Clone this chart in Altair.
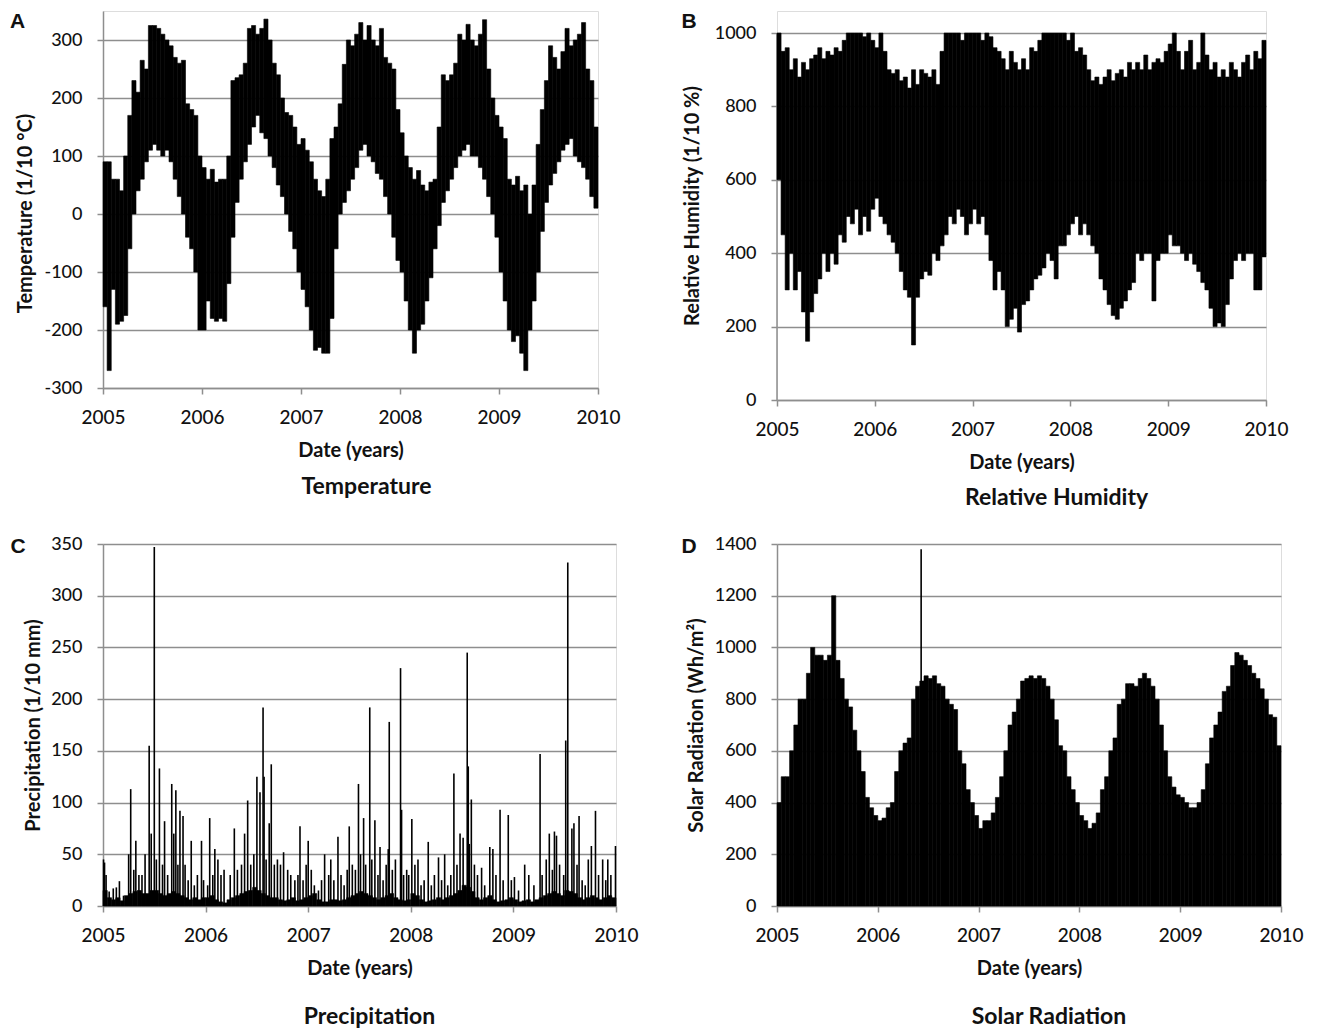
import altair as alt
import pandas as pd

# ---------------- data (half-month bins 2005-2009) ----------------
YEARS = [2005, 2006, 2007, 2008, 2009, 2010]

temp_hi = [90, 90, 60, 60, 40, 100, 170, 230, 210, 265, 250, 325, 325, 320, 310, 300, 290, 270, 260, 265, 190, 180, 170, 100,
           80, 60, 77, 55, 60, 60, 100, 230, 235, 240, 260, 320, 325, 310, 320, 336, 300, 260, 240, 200, 175, 170, 150, 120,
           130, 110, 90, 60, 40, 30, 60, 130, 150, 190, 258, 300, 290, 310, 330, 300, 325, 300, 290, 320, 270, 260, 250, 180,
           140, 100, 80, 60, 75, 50, 40, 55, 60, 150, 240, 230, 240, 260, 310, 300, 327, 300, 290, 310, 335, 250, 200, 170,
           150, 130, 60, 50, 65, 40, 50, 0, 50, 120, 180, 230, 290, 270, 250, 280, 320, 290, 300, 310, 330, 250, 230, 150]
temp_lo = [-160, -270, -130, -190, -185, -175, -60, 0, 40, 60, 90, 110, 120, 110, 100, 110, 90, 60, 30, 0, -40, -60, -100, -200,
           -200, -150, -180, -185, -180, -185, -120, -40, 20, 60, 90, 120, 150, 170, 140, 130, 100, 80, 50, 30, 0, -30, -60, -100,
           -130, -160, -200, -235, -230, -240, -240, -180, -60, 0, 20, 40, 60, 80, 110, 120, 100, 90, 70, 60, 30, 0, -40, -80,
           -100, -150, -200, -240, -200, -190, -150, -110, -60, -20, 20, 40, 60, 80, 100, 110, 120, 100, 100, 80, 60, 30, 0, -40,
           -100, -150, -200, -220, -210, -240, -270, -200, -150, -100, -30, 20, 50, 70, 90, 110, 120, 130, 100, 90, 80, 60, 30, 10]

hum_hi = [1000, 950, 960, 900, 930, 880, 920, 900, 930, 940, 960, 930, 950, 940, 960, 950, 980, 1000, 1000, 1000, 1000, 990, 1000, 980,
          960, 1000, 950, 900, 890, 900, 870, 880, 850, 900, 860, 900, 890, 880, 900, 860, 950, 1000, 1000, 1000, 1000, 980, 1000, 1000,
          1000, 1000, 980, 1000, 990, 960, 950, 930, 900, 950, 920, 900, 930, 900, 960, 950, 980, 1000, 1000, 1000, 1000, 1000, 1000, 980,
          1000, 950, 960, 940, 900, 870, 880, 860, 880, 900, 870, 890, 900, 880, 920, 900, 920, 900, 940, 900, 920, 930, 920, 950,
          970, 1000, 950, 900, 950, 980, 900, 920, 1000, 940, 900, 920, 880, 900, 880, 920, 900, 880, 920, 940, 900, 950, 930, 980]
hum_lo = [600, 450, 300, 400, 300, 350, 240, 160, 240, 290, 330, 400, 350, 400, 370, 450, 430, 500, 480, 520, 450, 500, 460, 520,
          550, 500, 480, 450, 430, 400, 350, 300, 280, 150, 280, 330, 350, 340, 400, 380, 420, 450, 500, 480, 520, 500, 450, 480,
          520, 480, 500, 450, 380, 300, 350, 300, 200, 220, 250, 185, 260, 270, 300, 330, 340, 360, 400, 380, 330, 420, 420, 450,
          480, 500, 450, 480, 450, 420, 400, 330, 300, 260, 230, 220, 250, 270, 300, 320, 400, 380, 400, 400, 270, 380, 400, 400,
          450, 420, 420, 400, 380, 400, 370, 350, 320, 300, 250, 200, 210, 200, 260, 330, 380, 400, 380, 400, 400, 300, 300, 390]

precip_base = [15, 8, 6, 8, 5, 10, 12, 14, 15, 12, 12, 15, 15, 12, 10, 12, 14, 12, 10, 8, 6, 8, 6, 8,
               8, 10, 6, 4, 3, 6, 8, 10, 12, 14, 15, 18, 15, 12, 10, 8, 8, 6, 5, 6, 8, 5, 6, 8,
               10, 12, 6, 4, 4, 6, 6, 5, 6, 8, 10, 12, 14, 12, 10, 8, 6, 8, 10, 12, 8, 6, 5, 6,
               12, 10, 6, 4, 5, 6, 8, 6, 8, 10, 12, 15, 20, 18, 14, 8, 6, 8, 10, 6, 4, 5, 6, 8,
               6, 4, 5, 6, 4, 6, 8, 10, 12, 14, 12, 10, 15, 14, 12, 8, 6, 8, 10, 8, 6, 8, 10, 8]
precip_spike_year = [2005.005, 2005.015, 2005.03, 2005.06, 2005.10, 2005.13, 2005.16, 2005.20, 2005.25, 2005.27, 2005.30, 2005.32,
                     2005.35, 2005.38, 2005.41, 2005.45, 2005.47, 2005.50, 2005.52, 2005.55, 2005.58, 2005.60, 2005.63, 2005.67,
                     2005.69, 2005.71, 2005.73, 2005.75, 2005.78, 2005.80, 2005.83, 2005.86, 2005.89, 2005.92, 2005.96, 2005.98,
                     2006.02, 2006.04, 2006.07, 2006.09, 2006.12, 2006.15, 2006.18, 2006.24, 2006.28, 2006.31, 2006.35, 2006.38,
                     2006.41, 2006.44, 2006.47, 2006.50, 2006.53, 2006.56, 2006.57, 2006.59, 2006.62, 2006.64, 2006.67, 2006.70,
                     2006.73, 2006.76, 2006.80, 2006.83, 2006.87, 2006.90, 2006.92, 2006.95, 2006.98,
                     2007.00, 2007.03, 2007.06, 2007.10, 2007.13, 2007.16, 2007.20, 2007.22, 2007.25, 2007.29, 2007.32, 2007.35,
                     2007.38, 2007.40, 2007.43, 2007.46, 2007.49, 2007.51, 2007.54, 2007.56, 2007.60, 2007.62, 2007.65, 2007.68,
                     2007.70, 2007.73, 2007.76, 2007.78, 2007.79, 2007.82, 2007.85, 2007.90, 2007.91, 2007.93, 2007.96, 2007.98,
                     2008.01, 2008.04, 2008.07, 2008.10, 2008.13, 2008.17, 2008.20, 2008.23, 2008.27, 2008.30, 2008.33, 2008.36,
                     2008.39, 2008.42, 2008.45, 2008.48, 2008.51, 2008.55, 2008.56, 2008.57, 2008.59, 2008.62, 2008.65, 2008.69,
                     2008.72, 2008.77, 2008.80, 2008.83, 2008.87, 2008.90, 2008.95, 2008.98,
                     2009.01, 2009.05, 2009.11, 2009.15, 2009.20, 2009.26, 2009.28, 2009.32, 2009.35, 2009.38, 2009.40, 2009.42,
                     2009.45, 2009.49, 2009.51, 2009.53, 2009.57, 2009.59, 2009.62, 2009.64, 2009.67, 2009.70, 2009.73, 2009.76,
                     2009.80, 2009.83, 2009.87, 2009.90, 2009.92, 2009.95, 2009.995]
precip_spike_val = [45, 42, 30, 14, 17, 18, 24, 10, 50, 113, 35, 63,
                    30, 30, 50, 155, 70, 347, 45, 133, 40, 82, 30, 118,
                    70, 112, 40, 92, 87, 40, 25, 63, 20, 30, 63, 25,
                    20, 85, 30, 55, 45, 30, 35, 30, 75, 35, 40, 70,
                    102, 40, 50, 125, 110, 192, 125, 45, 80, 137, 40, 45,
                    40, 52, 35, 30, 25, 30, 77, 25, 40,
                    63, 35, 20, 15, 25, 50, 30, 45, 25, 67, 30, 20,
                    35, 77, 40, 35, 118, 50, 85, 40, 192, 45, 83, 30,
                    57, 25, 40, 55, 178, 35, 45, 230, 93, 30, 35, 30,
                    84, 40, 45, 20, 25, 62, 20, 30, 47, 25, 50, 20,
                    30, 128, 40, 70, 66, 245, 135, 60, 103, 40, 30, 37,
                    20, 57, 55, 30, 93, 25, 88, 25,
                    28, 15, 40, 30, 20, 147, 30, 45, 70, 35, 72, 68,
                    40, 30, 160, 332, 75, 80, 40, 87, 25, 20, 45, 58,
                    92, 30, 45, 25, 45, 30, 58]

solar_hi = [400, 500, 500, 600, 700, 800, 800, 900, 1000, 970, 970, 950, 970, 1200, 950, 880, 800, 770, 680, 600, 520, 420, 380, 350,
            330, 340, 380, 400, 520, 600, 630, 650, 800, 850, 870, 890, 880, 890, 860, 850, 800, 780, 760, 600, 550, 450, 400, 350,
            300, 330, 330, 360, 420, 500, 600, 700, 750, 800, 870, 880, 890, 880, 890, 880, 850, 800, 720, 620, 600, 500, 450, 400,
            350, 330, 300, 320, 360, 450, 500, 600, 650, 780, 800, 860, 860, 850, 880, 900, 880, 850, 800, 700, 600, 500, 460, 430,
            420, 400, 380, 380, 400, 450, 550, 650, 700, 750, 830, 850, 930, 980, 970, 950, 930, 900, 880, 840, 800, 740, 730, 620]
solar_spike_year = [2006.43]
solar_spike_val = [1380]

# ---------------- helpers ----------------
N = len(temp_hi)
starts = [2005 + i / 24 for i in range(N)]
ends = [2005 + (i + 1) / 24 for i in range(N)]

FONT = "Lato"
GRID = "#8e8e8e"
INK = "#111111"


def xenc(field="start"):
    return alt.X(f"{field}:Q",
                 scale=alt.Scale(domain=[2005, 2010], nice=False, zero=False),
                 axis=alt.Axis(values=YEARS, format="d", title="Date (years)", grid=False,
                               domainColor=GRID, domainWidth=1.5, tickColor=GRID, tickWidth=1.5, tickSize=6,
                               labelFont=FONT, labelFontSize=19, labelFontWeight=500, labelColor=INK,
                               labelPadding=14, labelFlush=False,
                               titleFont=FONT, titleFontSize=20, titleFontWeight="bold", titleColor=INK,
                               titlePadding=13))


def yscale(dom):
    return alt.Scale(domain=dom, nice=False, zero=False)


def yaxis(title, vals, domain=True, title_y=None, title_pad=8):
    kw = dict(title=title, values=vals, labelExpr="'' + datum.value", grid=True, gridColor=GRID, gridWidth=1.5,
              domain=domain, domainColor=GRID, domainWidth=1.5, tickColor=GRID, tickWidth=1.5, tickSize=6,
              labelFont=FONT, labelFontSize=18, labelFontWeight=500, labelColor=INK, labelPadding=15,
              titleFont=FONT, titleFontSize=20, titleFontWeight="bold", titleColor=INK, titlePadding=title_pad)
    if title_y is not None:
        kw["titleY"] = title_y
    return alt.Axis(**kw)


def letter(ch, dx, dy):
    return alt.Chart(pd.DataFrame({"t": [ch]})).mark_text(
        font="Liberation Sans", fontSize=21, fontWeight="bold", color=INK, align="center", baseline="alphabetic"
    ).encode(text="t:N", x=alt.value(dx), y=alt.value(dy))


def panel_title(text, offset, dx):
    return alt.TitleParams(text, orient="bottom", font=FONT, fontSize=23, fontWeight="bold", color=INK,
                           offset=offset, dx=dx, anchor="middle")


# ---------------- A: temperature ----------------
dfA = pd.DataFrame({"start": starts, "end": ends, "lo": temp_lo, "hi": temp_hi})
A_bars = alt.Chart(dfA).mark_bar(color="black", stroke="black", strokeWidth=0.6).encode(
    x=xenc(), x2="end:Q",
    y=alt.Y("lo:Q", scale=yscale([-300, 350]),
            axis=yaxis("Temperature (1/10 °C)", [-300, -200, -100, 0, 100, 200, 300], title_y=202)),
    y2="hi:Q")
A = alt.layer(A_bars, letter("A", -85.5, 17)).properties(
    width=495, height=377, title=panel_title("Temperature", 16, 16))

# ---------------- B: relative humidity ----------------
dfB = pd.DataFrame({"start": starts, "end": ends, "lo": hum_lo, "hi": hum_hi})
B_bars = alt.Chart(dfB).mark_bar(color="black", stroke="black", strokeWidth=0.6).encode(
    x=xenc(), x2="end:Q",
    y=alt.Y("lo:Q", scale=yscale([0, 1060]),
            axis=yaxis("Relative Humidity (1/10 %)", list(range(0, 1001, 100)), domain=False, title_pad=12)),
    y2="hi:Q")
B_axisline = alt.Chart(pd.DataFrame({"start": [2005], "lo": [0], "hi": [1000]})).mark_rule(
    color=GRID, strokeWidth=1.5).encode(x="start:Q", y="lo:Q", y2="hi:Q")
B = alt.layer(B_axisline, B_bars, letter("B", -88, 17)).properties(
    width=489, height=389, title=panel_title("Relative Humidity", 15, 35))

# ---------------- C: precipitation ----------------
dfC = pd.DataFrame({"start": starts, "end": ends, "zero": [0] * N, "val": precip_base})
dfCs = pd.DataFrame({"start": precip_spike_year, "zero": [0] * len(precip_spike_year), "val": precip_spike_val})
C_base = alt.Chart(dfC).mark_bar(color="black", stroke="black", strokeWidth=0.6).encode(
    x=xenc(), x2="end:Q",
    y=alt.Y("val:Q", scale=yscale([0, 350]),
            axis=yaxis("Precipitation (1/10 mm)", list(range(0, 351, 50)), title_pad=7)),
    y2="zero:Q")
C_spikes = alt.Chart(dfCs).mark_rule(color="black", strokeWidth=1.6).encode(
    x="start:Q", y="val:Q", y2="zero:Q")
C = alt.layer(C_base, C_spikes, letter("C", -85, 9)).properties(
    width=513, height=362, title=panel_title("Precipitation", 28, 10))

# ---------------- D: solar radiation ----------------
dfD = pd.DataFrame({"start": starts, "end": ends, "zero": [0] * N, "val": solar_hi})
dfDs = pd.DataFrame({"start": solar_spike_year, "zero": [0], "val": solar_spike_val})
D_bars = alt.Chart(dfD).mark_bar(color="black", stroke="black", strokeWidth=0.6).encode(
    x=xenc(), x2="end:Q",
    y=alt.Y("val:Q", scale=yscale([0, 1400]),
            axis=yaxis("Solar Radiation (Wh/m²)", list(range(0, 1401, 200)), title_pad=8)),
    y2="zero:Q")
D_spike = alt.Chart(dfDs).mark_rule(color="black", strokeWidth=1.6).encode(
    x="start:Q", y="val:Q", y2="zero:Q")
D = alt.layer(D_bars, D_spike, letter("D", -88, 9)).properties(
    width=504, height=362, title=panel_title("Solar Radiation", 28, 20))

chart = alt.concat(A, B, C, D, columns=2, spacing={"row": 144, "column": 161},
                   bounds="flush", align="each").properties(
    padding={"left": 9, "top": 10, "right": 5, "bottom": 5}
).configure_view(stroke=None).configure(background="white")

chart.save("out.html", embed_options={"renderer": "svg", "actions": False})
